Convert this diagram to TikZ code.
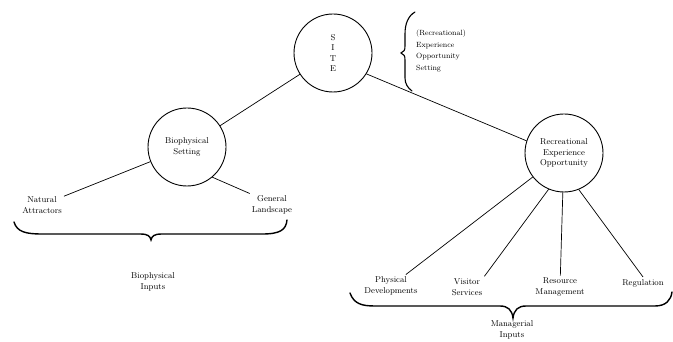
\documentclass[tikz,border=0pt]{standalone}

\begin{document}
\begin{tikzpicture}[x=1pt,y=-1pt,
    circ/.style={circle,draw,line width=0.9pt,minimum size=78pt,inner sep=0pt,align=center,font=\fontsize{8.5}{10.5}\selectfont},
    lab/.style={align=center,inner sep=2pt,font=\fontsize{8.5}{11}\selectfont},
    link/.style={line width=0.7pt},
    brc/.style={line width=1.4pt,line cap=round}]

    \def\army{234}%Altura brazo llave izq.
    \def\armyy{306}%Altura brazo llave der.

    \useasboundingbox (0,0) rectangle (673,342);

    %Circulos
    \node[circ] (site) at (333,53) {S\\I\\T\\E};
    \node[circ] (bio) at (187,147) {Biophysical\\Setting};
    \node[circ] (reo) at (564,153) {Recreational\\Experience\\Opportunity};

    %Textos
    \node[lab,align=left,anchor=west,font=\fontsize{7.5}{11.5}\selectfont] (set) at (414,51) {(Recreational)\\Experience\\Opportunity\\Setting};
    \node[lab] (nat) at (42,205) {Natural\\Attractors};
    \node[lab] (gen) at (272,205) {General\\Landscape};
    \node[lab] (bioin) at (153,282) {Biophysical\\Inputs};
    \node[lab] (phys) at (391,286) {Physical\\Developments};
    \node[lab] (vis) at (467,287) {Visitor\\Services};
    \node[lab] (res) at (560,287) {Resource\\Management};
    \node[lab] (reg) at (643,283) {Regulation};
    \node[lab] (manin) at (512,330) {Managerial\\Inputs};

    %Lineas
    \draw[link] (site)--(bio);
    \draw[link] (site.-32)--(reo.162);
    \draw[link] (bio)--(nat);
    \draw[link] (bio.-50)--(gen.north west);
    \draw[link] (reo)--(phys);
    \draw[link] (reo.-113)--(vis.north east);
    \draw[link] (reo)--(res);
    \draw[link] (reo.-68)--(reg.north);

    %Llaves
    \draw[brc] (14,222) .. controls (17,232) and (26,\army) .. (42,\army) -- (140,\army)
        .. controls (148,\army) and (150,236) .. (151,240)
        .. controls (152,236) and (154,\army) .. (162,\army) -- (262,\army)
        .. controls (280,\army) and (286,230) .. (287,220);
    \draw[brc] (350,293) .. controls (354,304) and (362,\armyy) .. (375,\armyy) -- (500,\armyy)
        .. controls (508,\armyy) and (512,310) .. (513,318)
        .. controls (514,310) and (518,\armyy) .. (526,\armyy) -- (655,\armyy)
        .. controls (666,\armyy) and (671,300) .. (672,292);
    \draw[brc,line width=1.1pt] (415,12) .. controls (408,16) and (405,24) .. (405,34) -- (405,46)
        .. controls (405,50) and (404,52) .. (401,53)
        .. controls (404,54) and (405,56) .. (405,60) -- (405,78)
        .. controls (405,84) and (408,88) .. (412,91);

\end{tikzpicture}
\end{document}
